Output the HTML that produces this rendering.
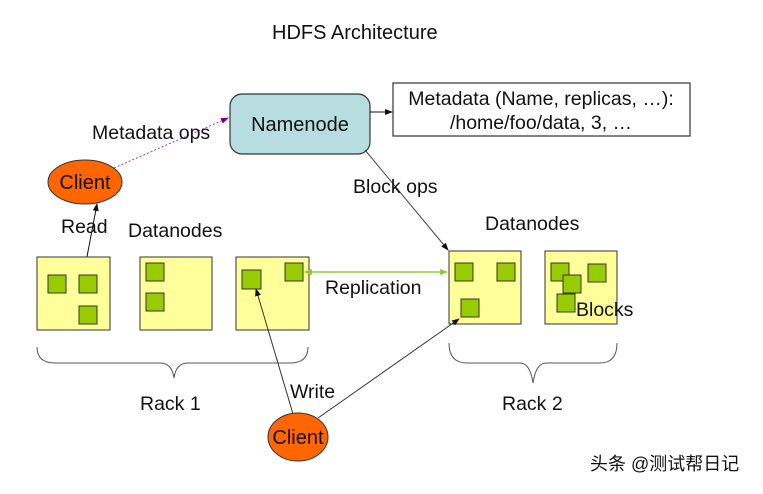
<!DOCTYPE html>
<html><head><meta charset="utf-8"><style>
body{margin:0;background:#fff;}
svg text{font-family:"Liberation Sans","Noto Sans CJK SC",sans-serif;fill:#111;}
</style></head><body>
<svg width="763" height="489" viewBox="0 0 763 489" xmlns="http://www.w3.org/2000/svg">
<defs>
<marker id="a" markerWidth="8" markerHeight="8" refX="7" refY="4" orient="auto" markerUnits="userSpaceOnUse"><path d="M0,1 L8,4 L0,7z" fill="#111"/></marker>
<marker id="p" markerWidth="8" markerHeight="8" refX="7" refY="4" orient="auto" markerUnits="userSpaceOnUse"><path d="M0,1 L8,4 L0,7z" fill="#800080"/></marker>
<marker id="g" markerWidth="8" markerHeight="8" refX="7" refY="4" orient="auto" markerUnits="userSpaceOnUse"><path d="M0,1 L8,4 L0,7z" fill="#8c3"/></marker>
</defs>
<text x="272" y="39" font-size="20">HDFS Architecture</text>
<rect x="230" y="94" width="140" height="60" rx="12" fill="#b8dde0" stroke="#333" stroke-width="1.2"/>
<text x="300" y="131" font-size="20" text-anchor="middle">Namenode</text>
<rect x="393" y="83" width="297" height="53" fill="#fff" stroke="#333" stroke-width="1.2"/>
<text x="541" y="105" font-size="19.5" text-anchor="middle">Metadata (Name, replicas, …):</text>
<text x="541" y="129" font-size="19.5" text-anchor="middle">/home/foo/data, 3, …</text>
<line x1="370" y1="112" x2="392" y2="112" stroke="#111" marker-end="url(#a)"/>
<ellipse cx="85" cy="182" rx="37" ry="22" fill="#f60" stroke="#333"/>
<text x="85" y="189" font-size="20" text-anchor="middle">Client</text>
<line x1="114" y1="168" x2="228" y2="118" stroke="#a040a0" stroke-dasharray="2,2" marker-end="url(#p)"/>
<text x="92" y="139" font-size="19.5">Metadata ops</text>
<line x1="365" y1="150" x2="448" y2="250" stroke="#444" marker-end="url(#a)"/>
<text x="353" y="193" font-size="19.5">Block ops</text>
<line x1="86" y1="262" x2="97" y2="204" stroke="#111" marker-end="url(#a)"/>
<text x="61" y="233" font-size="19.5">Read</text>
<text x="128" y="237" font-size="19.5">Datanodes</text>
<text x="485" y="230" font-size="19.5">Datanodes</text>
<g fill="#ffff99" stroke="#333" stroke-width="1">
<rect x="37" y="257" width="73" height="73"/><rect x="140" y="257" width="72" height="73"/><rect x="236" y="257" width="73" height="73"/>
<rect x="449" y="251" width="72" height="73"/><rect x="545" y="251" width="72" height="73"/>
</g>
<g fill="#99cc00" stroke="#333" stroke-width="1">
<rect x="48" y="275" width="18" height="18"/><rect x="79" y="275" width="18" height="18"/><rect x="79" y="306" width="18" height="18"/>
<rect x="146" y="263" width="18" height="18"/><rect x="146" y="293" width="18" height="18"/>
<rect x="242" y="270" width="19" height="19"/><rect x="285" y="263" width="18" height="18"/>
<rect x="455" y="263" width="18" height="18"/><rect x="497" y="263" width="18" height="18"/><rect x="461" y="299" width="18" height="18"/>
<rect x="551" y="263" width="18" height="18"/><rect x="588" y="264" width="18" height="18"/><rect x="563" y="275" width="18" height="18"/><rect x="557" y="294" width="18" height="18"/>
</g>
<line x1="447" y1="272" x2="305" y2="272" stroke="#8c3" stroke-width="1.3" marker-end="url(#g)"/>
<line x1="305" y1="272" x2="447" y2="272" stroke="#8c3" stroke-width="1.3" marker-end="url(#g)"/>
<text x="325" y="294" font-size="19.5">Replication</text>
<text x="576" y="316" font-size="19.5">Blocks</text>
<line x1="293" y1="414" x2="256" y2="289" stroke="#333" marker-end="url(#a)"/>
<line x1="318" y1="418" x2="459" y2="319" stroke="#333" marker-end="url(#a)"/>
<text x="290" y="398" font-size="19.5">Write</text>
<ellipse cx="298" cy="437" rx="30" ry="24" fill="#f60" stroke="#333"/>
<text x="298" y="444" font-size="20" text-anchor="middle">Client</text>
<g fill="none" stroke="#555" stroke-width="1">
<path d="M37,347 Q37,363 55,363 L160,363 Q172,363 174,378 Q176,363 188,363 L290,363 Q308,363 308,347"/>
<path d="M449,343 Q449,363 467,363 L520,363 Q530,363 533,383 Q536,363 546,363 L600,363 Q617,363 617,343"/>
</g>
<text x="140" y="410" font-size="19.5">Rack 1</text>
<text x="502" y="410" font-size="19.5">Rack 2</text>
<text x="590" y="470" font-size="18">头条 @测试帮日记</text>
</svg>
</body></html>
